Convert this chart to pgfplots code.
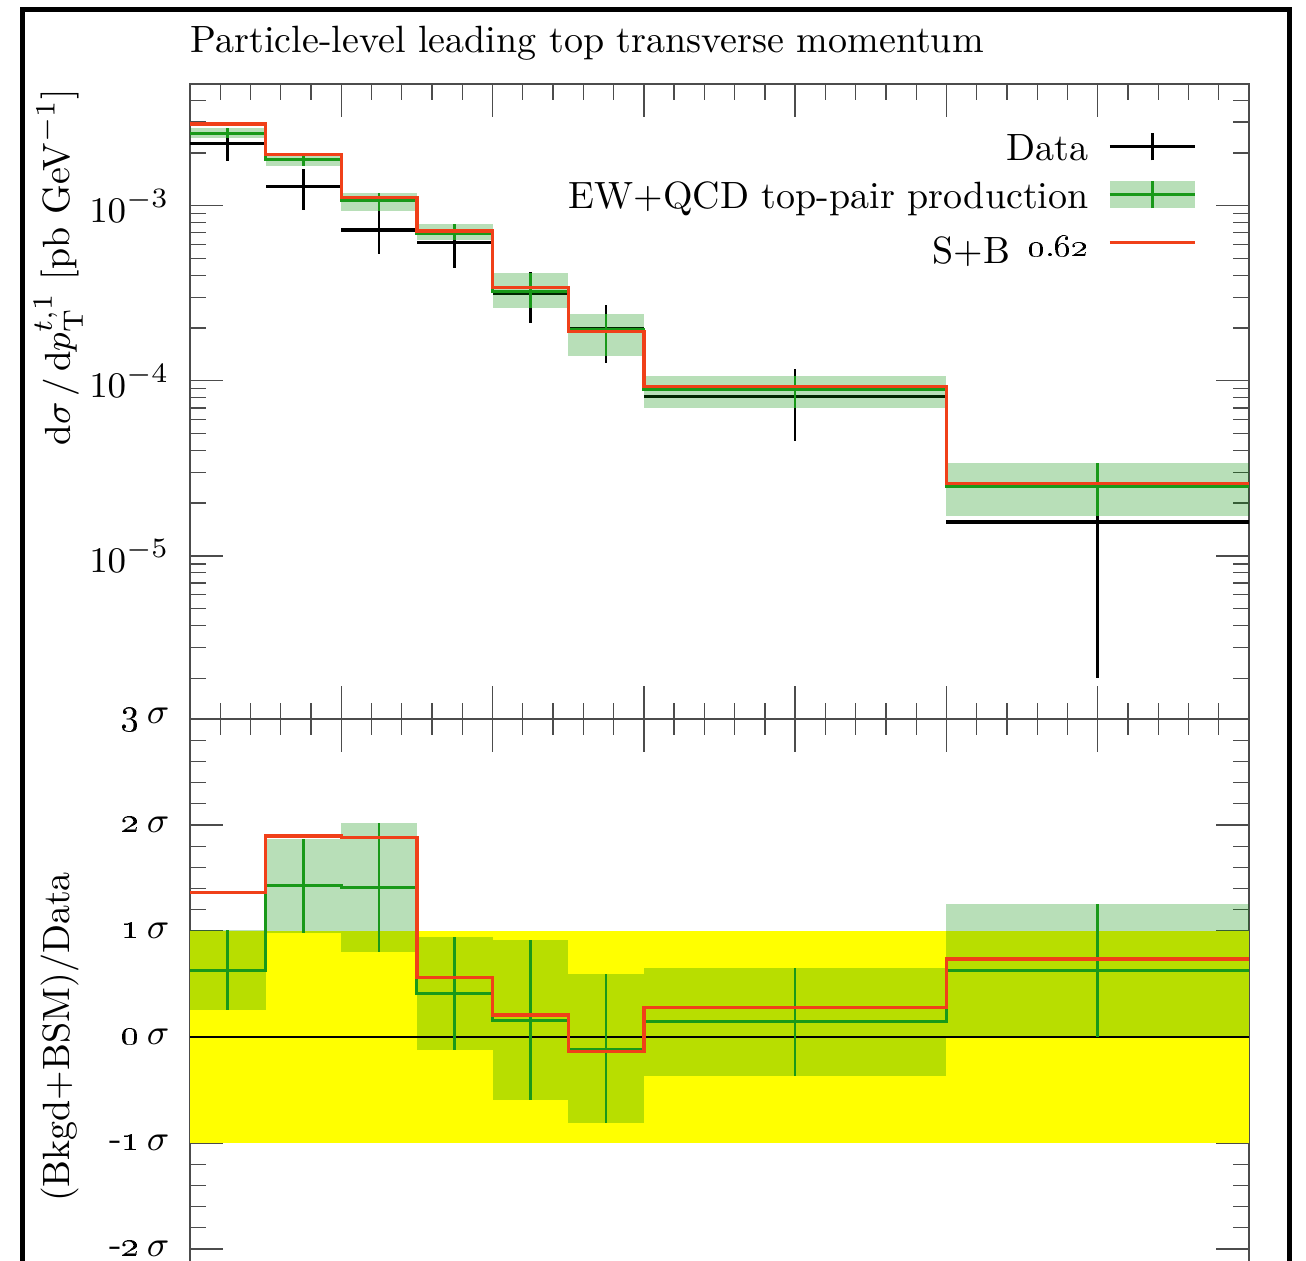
\documentclass[border=0pt]{standalone}
\usepackage{pgfplots}
\pgfplotsset{compat=1.18}
\usepackage{pgfplotstable}

\definecolor{sbred}{rgb}{0.94,0.25,0.1}
\definecolor{mcgreen}{rgb}{0.1,0.6,0.1}
\definecolor{bandgreen}{rgb}{0,0.55,0}
\definecolor{sigyellow}{rgb}{1,1,0}
\definecolor{axisgray}{gray}{0.3}

\newcommand\plotfont{\fontsize{9.5}{11.5}\selectfont}

% Differential cross-section per bin (last row closes the step lines at 700 GeV)
\pgfplotstableread{
xlo xc  hw  data      derr      mc        mclo      mchi      sb
0   25  25  2.27e-3   0.48e-3   2.59e-3   2.42e-3   2.78e-3   2.925e-3
50  75  25  1.283e-3  0.345e-3  1.823e-3  1.684e-3  1.922e-3  1.965e-3
100 125 25  0.727e-3  0.20e-3   1.064e-3  0.937e-3  1.178e-3  1.117e-3
150 175 25  0.615e-3  0.173e-3  0.695e-3  0.637e-3  0.786e-3  0.717e-3
200 225 25  0.316e-3  0.103e-3  0.322e-3  0.2597e-3 0.4146e-3 0.342e-3
250 275 25  0.1986e-3 0.072e-3  0.195e-3  0.1392e-3 0.2399e-3 0.1909e-3
300 400 100 8.12e-5   3.6e-5    8.87e-5   6.98e-5   1.067e-4  9.27e-5
500 600 100 1.56e-5   1.36e-5   2.50e-5   1.694e-5  3.41e-5   2.58e-5
700 700 0   1.56e-5   0         2.50e-5   1.694e-5  3.41e-5   2.58e-5
}\xsectable

% Deviation from data in units of sigma
\pgfplotstableread{
xlo xc  mc      mclo    mchi   sb
0   25  0.632   0.258   1.006  1.361
50  75  1.425   0.984   1.865  1.895
100 125 1.412   0.805   2.016  1.884
150 175 0.412  -0.123   0.940  0.563
200 225 0.160  -0.594   0.915  0.2075
250 275 -0.113 -0.814   0.591  -0.138
300 400 0.145  -0.368   0.648  0.280
500 600 0.623   0.000   1.255  0.736
700 700 0.623   0.000   1.255  0.736
}\sigtable

% bin widths on the page: 50 GeV and 200 GeV of a 700 GeV wide, 264.75pt axis
\def\narrowbin{18.9107pt}
\def\widebin{75.643pt}

\pgfplotsset{
  rivet/.style={
    scale only axis, width=264.75pt,
    xmin=0, xmax=700,
    xtick={0,100,...,700}, minor x tick num=4, xticklabels={},
    major tick length=8.25pt, minor tick length=4pt,
    tick align=inside,
    axis line style={axisgray, line width=0.33pt},
    every tick/.style={axisgray, line width=0.33pt},
    font=\plotfont,
    tick label style={font=\plotfont},
    yticklabel style={inner sep=0pt, xshift=-5pt},
  },
  band/.style={forget plot, draw=none, mark=none,
    error bars/.cd, y dir=both, y explicit, error mark=none,
    error bar style={draw=bandgreen, draw opacity=0.28, line width=#1, line cap=butt}},
  mcerr/.style={forget plot, draw=none, mark=none,
    error bars/.cd, y dir=both, y explicit, error mark=none,
    error bar style={draw=mcgreen, line width=0.68pt}},
}

\begin{document}
\begin{tikzpicture}
\useasboundingbox (0pt,0pt) rectangle (326.5pt,-315.25pt);
\draw[black, line width=1.325pt] (5.625pt,-315.25pt) -- (5.625pt,-2.3pt) -- (322.375pt,-2.3pt) -- (322.375pt,-315.25pt);

% ---------------- upper panel ----------------
\begin{axis}[rivet,
  at={(47.5pt,-179.75pt)}, anchor=south west, height=158.75pt,
  ymode=log, ymin=1.17e-6, ymax=4.95e-3,
  title={Particle-level leading top transverse momentum},
  title style={at={(0,1)}, anchor=base west, yshift=1.9pt, inner sep=0pt, font=\plotfont},
  ylabel={$\mathrm{d}\sigma\,/\,\mathrm{d}p_{\mathrm{T}}^{t,1}$ [pb GeV$^{-1}$]},
  ylabel style={at={(axis description cs:-0.1135,0.993)}, anchor=base east, inner sep=0pt, font=\plotfont},
  legend cell align=right,
  legend plot pos=right,
  legend style={draw=none, fill=none, at={(axis description cs:0.951,0.9343)}, anchor=north east,
    row sep=2pt, column sep=5pt, inner sep=0pt,
    nodes={inner sep=0pt, text height=8.5pt, text depth=1.5pt}, font=\plotfont},
]
% data: vertical then horizontal error bars
\addplot[forget plot, draw=none, mark=none, restrict x to domain=0:650,
  error bars/.cd, y dir=both, y explicit, error mark=none,
  error bar style={draw=black, line width=0.68pt}]
  table[x=xc, y=data, y error=derr] {\xsectable};
\addplot[forget plot, draw=none, mark=none, restrict x to domain=0:650,
  error bars/.cd, x dir=both, x explicit, error mark=none,
  error bar style={draw=black, line width=0.83pt}]
  table[x=xc, y=data, x error=hw] {\xsectable};
% background uncertainty band, bin by bin
\addplot[restrict x to domain=0:290, band=\narrowbin] table[x=xc, y=mc,
   y error plus expr=\thisrow{mchi}-\thisrow{mc}, y error minus expr=\thisrow{mc}-\thisrow{mclo}] {\xsectable};
\addplot[restrict x to domain=300:650, band=\widebin] table[x=xc, y=mc,
   y error plus expr=\thisrow{mchi}-\thisrow{mc}, y error minus expr=\thisrow{mc}-\thisrow{mclo}] {\xsectable};
\addplot[forget plot, mcgreen, line width=0.75pt, const plot mark left, mark=none] table[x=xlo, y=mc] {\xsectable};
\addplot[restrict x to domain=0:650, mcerr] table[x=xc, y=mc,
   y error plus expr=\thisrow{mchi}-\thisrow{mc}, y error minus expr=\thisrow{mc}-\thisrow{mclo}] {\xsectable};
% signal + background
\addplot[forget plot, sbred, line width=0.83pt, const plot mark left, mark=none] table[x=xlo, y=sb] {\xsectable};

\addlegendimage{legend image code/.code={
  \draw[black, line width=0.6pt] (0pt,0pt) -- (21.25pt,0pt);
  \draw[black, line width=0.65pt] (10.625pt,-3.45pt) -- (10.625pt,3.45pt);}}
\addlegendentry{Data}
\addlegendimage{legend image code/.code={
  \path[draw=none, fill=bandgreen, fill opacity=0.28] (0pt,-3.43pt) rectangle (21.25pt,3.43pt);
  \draw[mcgreen, line width=0.7pt] (0pt,0pt) -- (21.25pt,0pt);
  \draw[mcgreen, line width=0.7pt] (10.625pt,-3.43pt) -- (10.625pt,3.43pt);}}
\addlegendentry{EW+QCD top-pair production}
\addlegendimage{legend image code/.code={
  \draw[sbred, line width=0.7pt] (0pt,0pt) -- (21.25pt,0pt);}}
\addlegendentry{\raisebox{-1.75pt}{S+B}\hspace{4.5pt}{\fontsize{8.5}{9}\selectfont\oldstylenums{0.62}}}
\end{axis}

% ---------------- lower panel (cut at the page bottom) ----------------
\begin{axis}[rivet,
  at={(47.5pt,-179.75pt)}, anchor=north west, height=135.5pt,
  axis x line*=top,
  ymin=-2.113, ymax=3, ytick={-2,-1,...,3}, minor y tick num=4,
  yticklabels={-\oldstylenums{2}\,$\sigma$, -\oldstylenums{1}\,$\sigma$,
               \oldstylenums{0}\,$\sigma$, \oldstylenums{1}\,$\sigma$, \oldstylenums{2}\,$\sigma$,
               \oldstylenums{3}\,$\sigma$},
  ylabel={(Bkgd+BSM)/Data},
  ylabel style={at={(axis description cs:-0.1135,0.4133)}, anchor=base, inner sep=0pt, font=\plotfont},
]
\addplot[forget plot, fill=sigyellow, draw=none] coordinates {(0,-1) (700,-1) (700,1) (0,1)} -- cycle;
\addplot[restrict x to domain=0:290, band=\narrowbin] table[x=xc, y=mc,
   y error plus expr=\thisrow{mchi}-\thisrow{mc}, y error minus expr=\thisrow{mc}-\thisrow{mclo}] {\sigtable};
\addplot[restrict x to domain=300:650, band=\widebin] table[x=xc, y=mc,
   y error plus expr=\thisrow{mchi}-\thisrow{mc}, y error minus expr=\thisrow{mc}-\thisrow{mclo}] {\sigtable};
\addplot[forget plot, black, line width=0.3pt] coordinates {(0,0) (700,0)};
\addplot[forget plot, mcgreen, line width=0.75pt, const plot mark left, mark=none] table[x=xlo, y=mc] {\sigtable};
\addplot[restrict x to domain=0:650, mcerr] table[x=xc, y=mc,
   y error plus expr=\thisrow{mchi}-\thisrow{mc}, y error minus expr=\thisrow{mc}-\thisrow{mclo}] {\sigtable};
\addplot[forget plot, sbred, line width=0.83pt, const plot mark left, mark=none] table[x=xlo, y=sb] {\sigtable};
\end{axis}
\end{tikzpicture}
\end{document}
